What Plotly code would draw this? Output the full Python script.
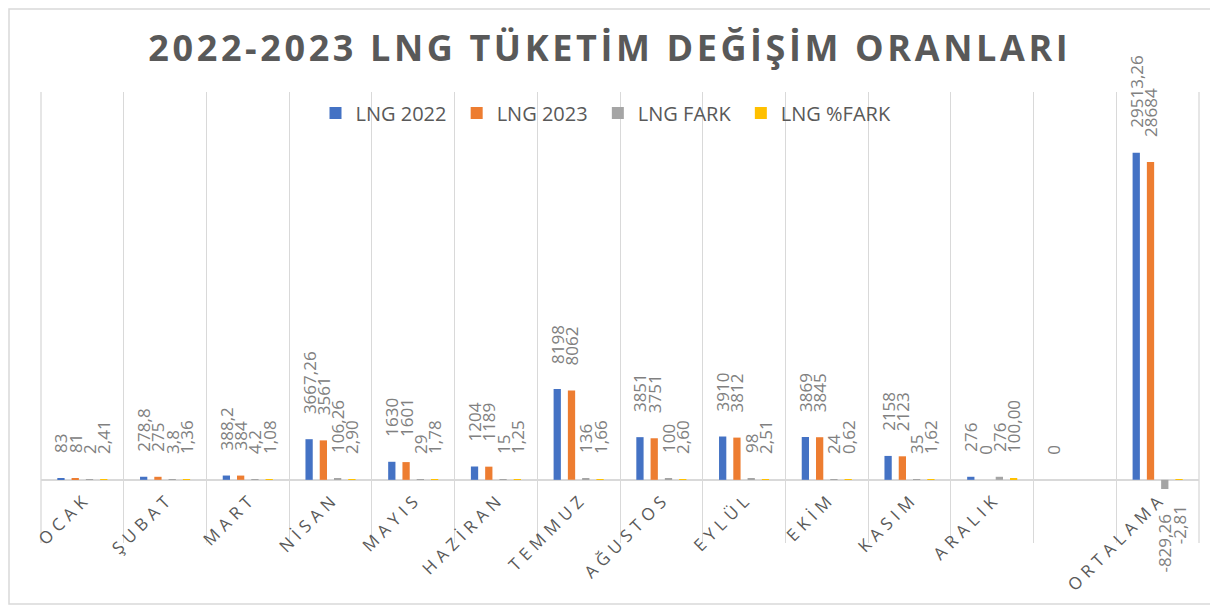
import plotly.graph_objects as go

categories = ["OCAK", "ŞUBAT", "MART", "NİSAN", "MAYIS", "HAZİRAN", "TEMMUZ",
              "AĞUSTOS", "EYLÜL", "EKİM", "KASIM", "ARALIK", " ", "ORTALAMA"]
lng_2022 = [83, 278.8, 388.2, 3667.26, 1630, 1204, 8198, 3851, 3910, 3869, 2158, 276, 0, 29513.26]
lng_2023 = [81, 275, 384, 3561, 1601, 1189, 8062, 3751, 3812, 3845, 2123, 0, None, 28684]
lng_fark = [2, 3.8, 4.2, 106.26, 29, 15, 136, 100, 98, 24, 35, 276, None, -829.26]
lng_pct = [2.41, 1.36, 1.08, 2.90, 1.78, 1.25, 1.66, 2.60, 2.51, 0.62, 1.62, 100.00, None, -2.81]

series_names = ["LNG 2022", "LNG 2023", "LNG FARK", "LNG %FARK"]
series_values = [lng_2022, lng_2023, lng_fark, lng_pct]
series_colors = ["#4472C4", "#ED7D31", "#A5A5A5", "#FFC000"]
series_fixed = [False, False, False, True]

TITLE = "2022-2023 LNG TÜKETİM DEĞİŞİM ORANLARI"
HS = "\u200a"
NB = "\u00a0"

def spaced(s, sep):
    return sep.join(list(s))

def fmt(v, fixed):
    if v is None:
        return ""
    if fixed:
        s = f"{v:.2f}"
    else:
        s = f"{v:.2f}".rstrip("0").rstrip(".")
    s = s.replace(".", ",")
    pad = NB * 5
    return pad + s if v >= 0 else s + pad

# page body has an 8px margin, so the figure is laid out 8px smaller/shifted
W, H = 1210, 601
YMIN, YMAX = -5700, 35000
L, R, T, B = 33, 19, 84, 66
PW, PH = W - L - R, H - T - B

fig = go.Figure()
for i, (name, vals, col, fixed) in enumerate(zip(series_names, series_values, series_colors, series_fixed)):
    label = name + (NB if i < len(series_names) - 1 else "")
    fig.add_trace(go.Bar(
        x=categories, y=vals, name=label, marker=dict(color=col, line=dict(width=0)),
        text=[fmt(v, fixed) for v in vals], textposition="outside", textangle=-90,
        constraintext="none", cliponaxis=False,
        textfont=dict(family="Open Sans", size=17, color="#808080"),
    ))

zero_pos = (0 - YMIN) / (YMAX - YMIN)
fig.update_layout(
    width=W, height=H,
    margin=dict(l=L, r=R, t=T, b=B),
    paper_bgcolor="white", plot_bgcolor="white",
    barmode="group", bargap=0.31, bargroupgap=0.49,
    title=dict(text=spaced(TITLE, HS), x=(608 - 8) / W, xanchor="center", y=1 - 40 / H, yanchor="middle",
               font=dict(family="Open Sans", size=36, color="#595959", weight="bold")),
    legend=dict(orientation="h", x=(598 - L) / PW, xanchor="center", y=(H - B - 105) / PH, yanchor="middle",
                font=dict(family="Open Sans", size=20, color="#595959"), bgcolor="rgba(0,0,0,0)",
                itemwidth=30, traceorder="normal"),
    showlegend=True,
    xaxis=dict(anchor="free", position=zero_pos, tickangle=-45, automargin=False,
               tickson="boundaries", showgrid=True, gridcolor="#d9d9d9", gridwidth=1.3,
               ticks="", showline=False, ticklabelstandoff=8,
               tickfont=dict(family="Open Sans", size=17, color="#595959"),
               tickmode="array", tickvals=categories,
               ticktext=[spaced(c, HS * 3) for c in categories]),
    yaxis=dict(range=[YMIN, YMAX], showticklabels=False, showgrid=False, automargin=False,
               zeroline=True, zerolinecolor="#d9d9d9", zerolinewidth=1.5),
)
for xe in (0, 1):
    fig.add_shape(type="line", xref="paper", yref="paper", x0=xe, x1=xe, y0=0, y1=1,
                  line=dict(color="#d9d9d9", width=1.3), layer="below")
fig.add_shape(type="rect", xref="paper", yref="paper",
              x0=(1 - L) / PW, x1=(1205 - L) / PW,
              y0=(H - B - 596) / PH, y1=(H - B - 1) / PH,
              line=dict(color="#d9d9d9", width=1.5), fillcolor="rgba(0,0,0,0)", layer="below")
fig.write_html("out.html")
